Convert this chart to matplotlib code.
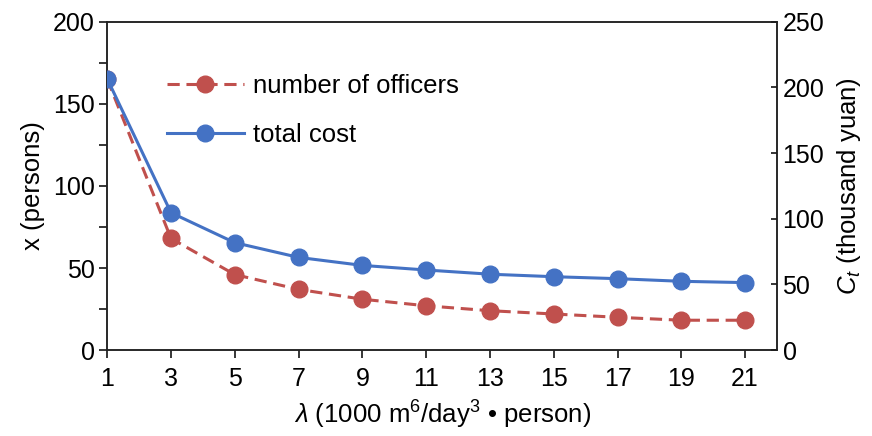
import matplotlib
matplotlib.use("Agg")
import matplotlib.pyplot as plt
from matplotlib.ticker import MultipleLocator

plt.rcParams['font.family'] = ['Liberation Sans', 'DejaVu Sans']
plt.rcParams['mathtext.fontset'] = 'custom'
plt.rcParams['mathtext.rm'] = 'Liberation Sans'
plt.rcParams['mathtext.it'] = 'Liberation Sans:italic'
plt.rcParams['mathtext.bf'] = 'Liberation Sans:bold'

# lambda values (1000 m^6/day^3 * person)
lam = [1, 3, 5, 7, 9, 11, 13, 15, 17, 19, 21]
# number of officers (persons)
officers = [165, 68, 46, 37, 31, 27, 24, 22, 20, 18.2, 18.2]
# total cost (thousand yuan)
total_cost = [206.5, 104.6, 81.8, 70.6, 64.5, 61.0, 57.8, 55.9, 54.4, 52.4, 51.4]

red = '#C0504D'
blue = '#4472C4'

fig = plt.figure(figsize=(8.72, 4.36), dpi=100)
ax = fig.add_axes([0.123, 0.197, 0.768, 0.753])
ax2 = ax.twinx()

l1, = ax.plot(lam, officers, color=red, lw=2.2, ls=(0, (4, 2.2)),
              marker='o', ms=12, label='number of officers', zorder=3)
l2, = ax2.plot(lam, total_cost, color=blue, lw=2.2, ls='-',
               marker='o', ms=12, label='total cost', zorder=3)

ax.set_xlim(1, 22)
ax.set_ylim(0, 200)
ax2.set_ylim(0, 250)
ax.set_xticks(lam)
ax.set_yticks([0, 50, 100, 150, 200])
ax.yaxis.set_minor_locator(MultipleLocator(25))
ax2.set_yticks([0, 50, 100, 150, 200, 250])

for a in (ax, ax2):
    for s in a.spines.values():
        s.set_linewidth(1.1)
        s.set_color('#222222')

fs_tick = 18
fs_lab = 18.5
ax.tick_params(axis='x', direction='out', length=6, width=1.1, labelsize=fs_tick, pad=6)
ax.tick_params(axis='y', which='major', direction='out', length=6, width=1.1, labelsize=fs_tick, pad=3)
ax.tick_params(axis='y', which='minor', direction='out', length=6, width=1.1)
ax2.tick_params(axis='y', direction='in', length=4, width=1.1, labelsize=fs_tick, pad=4)

ax.set_xlabel(r'$\lambda$ (1000 m$^6$/day$^3$ • person)', fontsize=fs_lab, labelpad=6)
ax.set_ylabel('x (persons)', fontsize=fs_lab, labelpad=6)
ax2.set_ylabel(r'$C_t$ (thousand yuan)', fontsize=fs_lab, labelpad=8)

ax2.legend(handles=[l1, l2], loc='upper left', bbox_to_anchor=(0.054, 0.91),
           frameon=False, fontsize=fs_lab, handlelength=3.0, labelspacing=0.95,
           handletextpad=0.35)

fig.savefig('out.png', dpi=100)
